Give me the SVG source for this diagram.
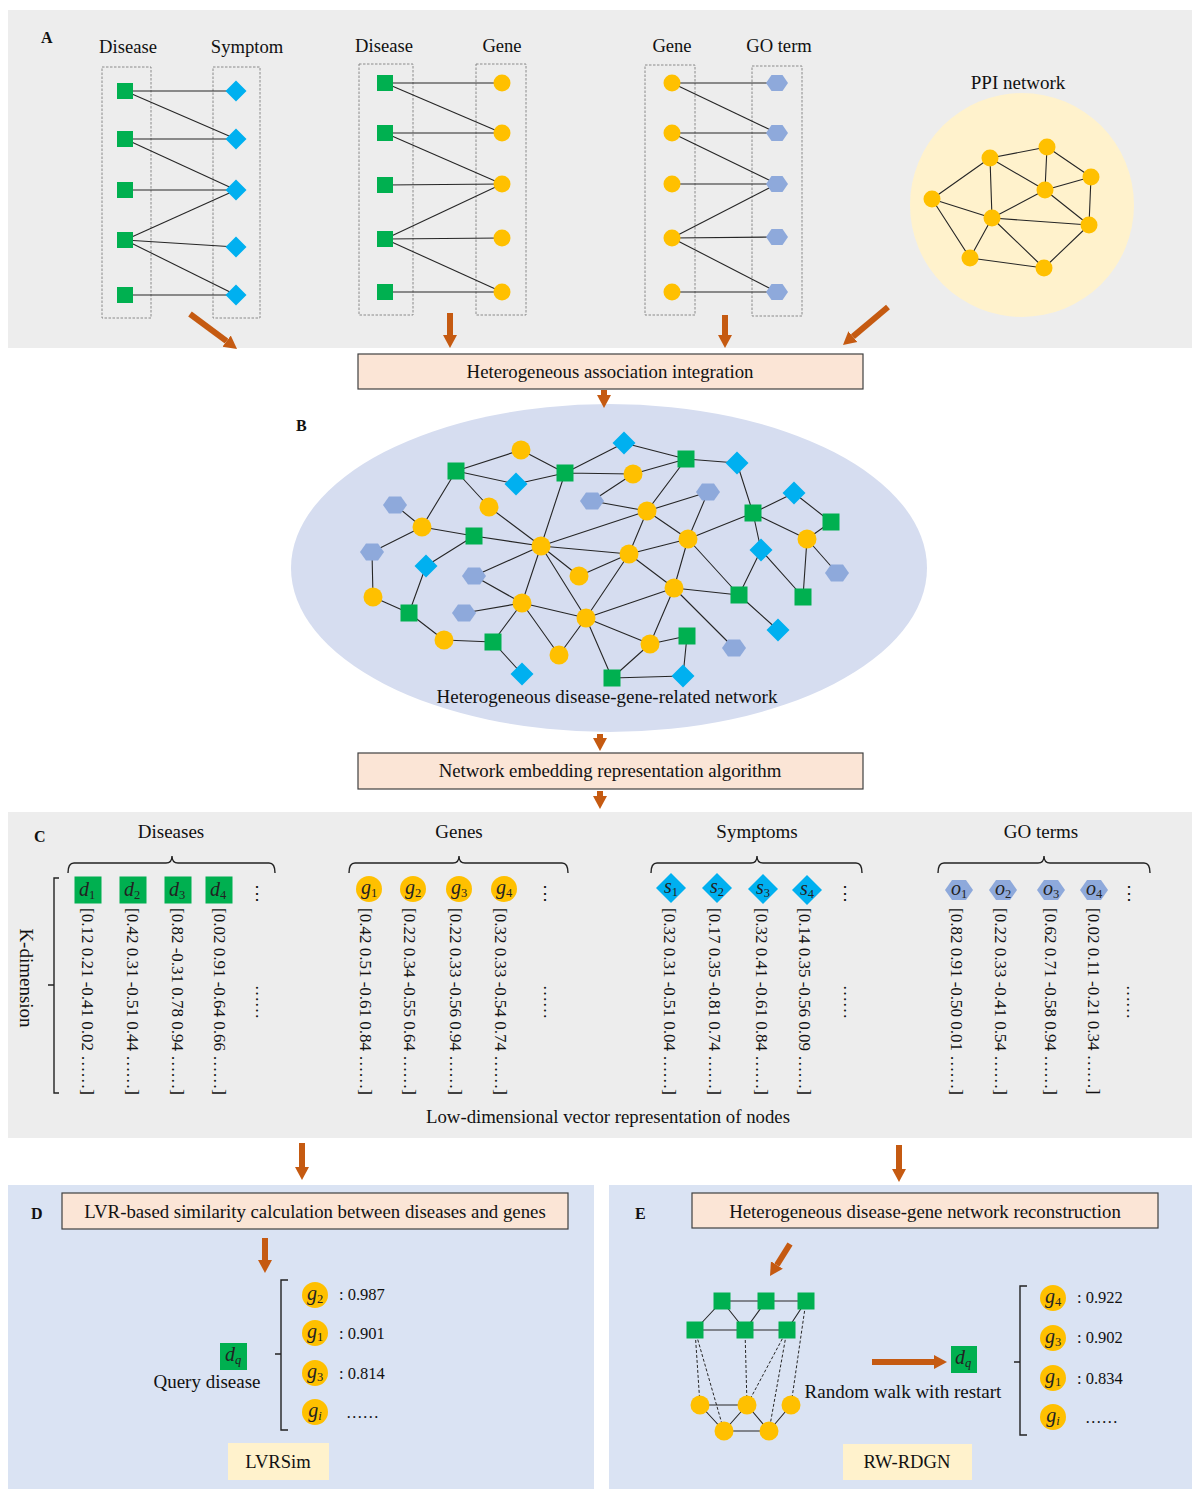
<svg xmlns="http://www.w3.org/2000/svg" width="1192" height="1489" viewBox="0 0 1192 1489">
<style>
.t{font-family:"Liberation Serif","Times New Roman",serif;fill:#111}
.h{font-size:18.6px}
.h2{font-size:19px}
.c{text-anchor:middle}
.lb{font-size:16px;font-weight:bold}
.box{fill:#FBE5D6;stroke:#404040;stroke-width:1.2}
.bt{font-size:18.8px}
.ybox{fill:#FFF2CC}
.e{stroke:#262626;stroke-width:1.1;fill:none}
.ed{stroke:#262626;stroke-width:1;fill:none;stroke-dasharray:3 2}
.dash{stroke:#808080;stroke-width:0.9;stroke-dasharray:2.5 1.5;fill:none}
.arr{stroke:#C55A11;stroke-width:6;fill:none;marker-end:url(#ah)}
.brk{stroke:#222;stroke-width:1.4;fill:none}
.ml{font-family:"Liberation Serif",serif;font-style:italic;font-size:20px;fill:#222;text-anchor:middle}
.sb{font-size:12.5px;font-style:normal}
.si{font-size:12.5px}
.vec{font-size:17px}
.val{font-size:16.5px}
</style>
<defs>
<marker id="ah" markerUnits="userSpaceOnUse" markerWidth="16" markerHeight="16" viewBox="0 0 16 16" refX="0" refY="8" orient="auto"><path d="M0,1 L13,8 L0,15 z" fill="#C55A11"/></marker>
<rect id="sqA" x="-8" y="-8" width="16" height="16" fill="#00B050"/>
<polygon id="diaA" points="0,-10.5 10.5,0 0,10.5 -10.5,0" fill="#00B0F0"/>
<circle id="cirA" r="8.5" fill="#FFC000"/>
<polygon id="hexA" points="-11,0 -5.5,-8 5.5,-8 11,0 5.5,8 -5.5,8" fill="#8EA9DB"/>
<rect id="sqB" x="-8.5" y="-8.5" width="17" height="17" fill="#00B050"/>
<circle id="cirB" r="9.5" fill="#FFC000"/>
<polygon id="diaB" points="0,-11.5 11.5,0 0,11.5 -11.5,0" fill="#00B0F0"/>
<polygon id="hexB" points="-12,0 -6,-8.5 6,-8.5 12,0 6,8.5 -6,8.5" fill="#8EA9DB"/>
<rect id="sqC" x="-13.5" y="-13.5" width="27" height="27" fill="#00B050"/>
<circle id="cirC" r="13" fill="#FFC000"/>
<polygon id="diaC" points="0,-15 15,0 0,15 -15,0" fill="#00B0F0"/>
<polygon id="hexC" points="-14,0 -7,-10 7,-10 14,0 7,10 -7,10" fill="#8EA9DB"/>
</defs>

<!-- backgrounds -->
<rect x="0" y="0" width="1192" height="1489" fill="#ffffff"/>
<rect x="8" y="10" width="1184" height="338" fill="#EDEDED"/>
<ellipse cx="609" cy="568" rx="318" ry="164" fill="#D6DDF0"/>
<rect x="8" y="812" width="1184" height="326" fill="#EDEDED"/>
<rect x="8" y="1185" width="586" height="304" fill="#DAE3F3"/>
<rect x="609" y="1185" width="583" height="304" fill="#DAE3F3"/>

<!-- Panel A -->
<g id="panelA">
<text class="t lb" x="41" y="43">A</text>
<text class="t h c" x="128" y="53">Disease</text>
<text class="t h c" x="247" y="53">Symptom</text>
<text class="t h c" x="384" y="52">Disease</text>
<text class="t h c" x="502" y="52">Gene</text>
<text class="t h c" x="672" y="52">Gene</text>
<text class="t h c" x="779" y="52">GO term</text>
<text class="t h2 c" x="1018" y="89">PPI network</text>
<rect class="dash" x="102" y="67" width="49" height="251"/>
<rect class="dash" x="213" y="67" width="47" height="251"/>
<rect class="dash" x="359" y="64" width="54" height="251"/>
<rect class="dash" x="476" y="64" width="50" height="251"/>
<rect class="dash" x="645" y="65" width="50" height="250"/>
<rect class="dash" x="752" y="66" width="50" height="250"/>
<circle cx="1022" cy="205" r="112" fill="#FFF2CC"/>
</g>

<g id="connectors">
<!-- A group 1 -->
<line class="e" x1="125" y1="91" x2="236" y2="91"/>
<line class="e" x1="125" y1="91" x2="236" y2="139"/>
<line class="e" x1="125" y1="139" x2="236" y2="139"/>
<line class="e" x1="125" y1="139" x2="236" y2="190"/>
<line class="e" x1="125" y1="190" x2="236" y2="190"/>
<line class="e" x1="125" y1="240" x2="236" y2="190"/>
<line class="e" x1="125" y1="240" x2="236" y2="247"/>
<line class="e" x1="125" y1="240" x2="236" y2="295"/>
<line class="e" x1="125" y1="295" x2="236" y2="295"/>
<!-- A group 2 -->
<line class="e" x1="385" y1="83" x2="502" y2="83"/>
<line class="e" x1="385" y1="83" x2="502" y2="133"/>
<line class="e" x1="385" y1="133" x2="502" y2="133"/>
<line class="e" x1="385" y1="133" x2="502" y2="184"/>
<line class="e" x1="385" y1="185" x2="502" y2="184"/>
<line class="e" x1="385" y1="239" x2="502" y2="184"/>
<line class="e" x1="385" y1="239" x2="502" y2="238"/>
<line class="e" x1="385" y1="239" x2="502" y2="292"/>
<line class="e" x1="385" y1="292" x2="502" y2="292"/>
<!-- A group 3 -->
<line class="e" x1="672" y1="83" x2="777" y2="83"/>
<line class="e" x1="672" y1="83" x2="777" y2="133"/>
<line class="e" x1="672" y1="133" x2="777" y2="133"/>
<line class="e" x1="672" y1="133" x2="777" y2="184"/>
<line class="e" x1="672" y1="184" x2="777" y2="184"/>
<line class="e" x1="672" y1="238" x2="777" y2="184"/>
<line class="e" x1="672" y1="238" x2="777" y2="237"/>
<line class="e" x1="672" y1="238" x2="777" y2="292"/>
<line class="e" x1="672" y1="292" x2="777" y2="292"/>
<!-- PPI -->
<path class="e" d="M990,158L1047,147 M932,199L990,158 M990,158L992,218 M990,158L1045,190 M1047,147L1045,190 M1047,147L1091,177 M1091,177L1045,190 M1091,177L1089,225 M1045,190L992,218 M1045,190L1089,225 M932,199L992,218 M932,199L970,258 M992,218L1089,225 M992,218L970,258 M992,218L1044,268 M970,258L1044,268 M1089,225L1044,268"/>
<!-- B network -->
<path class="e" d="M456,471L521,450 M456,471L516,484 M521,450L565,473 M516,484L565,473 M456,471L422,527 M456,471L489,507 M395,505L422,527 M422,527L474,536 M422,527L372,552 M372,552L373,597 M373,597L409,613 M409,613L426,566 M426,566L474,536 M474,536L541,546 M489,507L541,546 M565,473L541,546 M474,576L541,546 M474,576L522,603 M541,546L522,603 M541,546L579,576 M541,546L586,618 M464,613L522,603 M522,603L493,642 M522,603L559,655 M522,603L586,618 M586,618L559,655 M586,618L612,678 M444,640L409,613 M444,640L493,642 M493,642L522,674 M565,473L624,443 M565,473L633,474 M624,443L686,459 M633,474L686,459 M686,459L737,463 M592,501L633,474 M592,501L647,511 M686,459L647,511 M647,511L708,492 M541,546L647,511 M647,511L629,554 M647,511L688,539 M688,539L708,492 M688,539L753,513 M541,546L629,554 M629,554L688,539 M629,554L579,576 M629,554L586,618 M629,554L674,588 M688,539L674,588 M688,539L739,595 M674,588L739,595 M586,618L674,588 M674,588L650,644 M674,588L734,648 M586,618L650,644 M650,644L687,636 M687,636L683,676 M612,678L650,644 M612,678L683,676 M737,463L753,513 M753,513L794,493 M794,493L831,522 M753,513L807,539 M807,539L831,522 M807,539L837,573 M807,539L803,597 M753,513L761,550 M761,550L739,595 M761,550L803,597 M739,595L778,630"/>
<!-- E small network -->
<path class="e" d="M722,1301L766,1301 M766,1301L806,1301 M722,1301L695,1330 M722,1301L745,1330 M766,1301L745,1330 M695,1330L745,1330 M745,1330L787,1330 M806,1301L787,1330 M700,1405L747,1405 M700,1405L724,1431 M747,1405L724,1431 M747,1405L769,1431 M791,1405L769,1431 M724,1431L769,1431"/>
<path class="ed" d="M695,1330L700,1405 M695,1330L724,1431 M745,1330L747,1405 M787,1330L747,1405 M787,1330L769,1431 M806,1301L791,1405"/>
<!-- flow arrows -->
<line class="arr" x1="190" y1="314" x2="226.6" y2="341.2"/>
<line class="arr" x1="450" y1="313" x2="450" y2="335"/>
<line class="arr" x1="725" y1="315" x2="725" y2="335"/>
<line class="arr" x1="888" y1="307" x2="852.9" y2="336.6"/>
<line class="arr" x1="604" y1="390" x2="604" y2="395"/>
<line class="arr" x1="600" y1="734" x2="600" y2="738"/>
<line class="arr" x1="600" y1="791" x2="600" y2="796"/>
<line class="arr" x1="302" y1="1143" x2="302" y2="1167"/>
<line class="arr" x1="899" y1="1145" x2="899" y2="1169"/>
<line class="arr" x1="265" y1="1238" x2="265" y2="1260"/>
<line class="arr" x1="790" y1="1244" x2="776.9" y2="1265"/>
<line class="arr" x1="872" y1="1362" x2="934" y2="1362"/>
</g>

<!-- Panel A nodes -->
<g id="A-dis1-1"><use href="#sqA" x="125" y="91"/></g>
<g id="A-dis1-2"><use href="#sqA" x="125" y="139"/></g>
<g id="A-dis1-3"><use href="#sqA" x="125" y="190"/></g>
<g id="A-dis1-4"><use href="#sqA" x="125" y="240"/></g>
<g id="A-dis1-5"><use href="#sqA" x="125" y="295"/></g>
<g id="A-sym-1"><use href="#diaA" x="236" y="91"/></g>
<g id="A-sym-2"><use href="#diaA" x="236" y="139"/></g>
<g id="A-sym-3"><use href="#diaA" x="236" y="190"/></g>
<g id="A-sym-4"><use href="#diaA" x="236" y="247"/></g>
<g id="A-sym-5"><use href="#diaA" x="236" y="295"/></g>
<g id="A-dis2-1"><use href="#sqA" x="385" y="83"/></g>
<g id="A-dis2-2"><use href="#sqA" x="385" y="133"/></g>
<g id="A-dis2-3"><use href="#sqA" x="385" y="185"/></g>
<g id="A-dis2-4"><use href="#sqA" x="385" y="239"/></g>
<g id="A-dis2-5"><use href="#sqA" x="385" y="292"/></g>
<g id="A-gen2-1"><use href="#cirA" x="502" y="83"/></g>
<g id="A-gen2-2"><use href="#cirA" x="502" y="133"/></g>
<g id="A-gen2-3"><use href="#cirA" x="502" y="184"/></g>
<g id="A-gen2-4"><use href="#cirA" x="502" y="238"/></g>
<g id="A-gen2-5"><use href="#cirA" x="502" y="292"/></g>
<g id="A-gen3-1"><use href="#cirA" x="672" y="83"/></g>
<g id="A-gen3-2"><use href="#cirA" x="672" y="133"/></g>
<g id="A-gen3-3"><use href="#cirA" x="672" y="184"/></g>
<g id="A-gen3-4"><use href="#cirA" x="672" y="238"/></g>
<g id="A-gen3-5"><use href="#cirA" x="672" y="292"/></g>
<g id="A-go-1"><use href="#hexA" x="777" y="83"/></g>
<g id="A-go-2"><use href="#hexA" x="777" y="133"/></g>
<g id="A-go-3"><use href="#hexA" x="777" y="184"/></g>
<g id="A-go-4"><use href="#hexA" x="777" y="237"/></g>
<g id="A-go-5"><use href="#hexA" x="777" y="292"/></g>
<g id="ppi-1"><use href="#cirA" x="932" y="199"/></g>
<g id="ppi-2"><use href="#cirA" x="990" y="158"/></g>
<g id="ppi-3"><use href="#cirA" x="1047" y="147"/></g>
<g id="ppi-4"><use href="#cirA" x="1091" y="177"/></g>
<g id="ppi-5"><use href="#cirA" x="1045" y="190"/></g>
<g id="ppi-6"><use href="#cirA" x="992" y="218"/></g>
<g id="ppi-7"><use href="#cirA" x="1089" y="225"/></g>
<g id="ppi-8"><use href="#cirA" x="970" y="258"/></g>
<g id="ppi-9"><use href="#cirA" x="1044" y="268"/></g>

<!-- process boxes -->
<g id="box-integration"><rect class="box" x="358" y="354" width="505" height="35"/><text class="t c bt" x="610" y="378">Heterogeneous association integration</text></g>
<g id="box-embedding"><rect class="box" x="358" y="753" width="505" height="36"/><text class="t c bt" x="610" y="777">Network embedding representation algorithm</text></g>

<!-- Panel B -->
<text class="t lb" x="296" y="431">B</text>
<text class="t h2 c" x="607" y="703">Heterogeneous disease-gene-related network</text>
<g id="B-S1"><use href="#sqB" x="456" y="471"/></g>
<g id="B-C1"><use href="#cirB" x="521" y="450"/></g>
<g id="B-D1"><use href="#diaB" x="516" y="484"/></g>
<g id="B-S2"><use href="#sqB" x="565" y="473"/></g>
<g id="B-H1"><use href="#hexB" x="395" y="505"/></g>
<g id="B-C2"><use href="#cirB" x="489" y="507"/></g>
<g id="B-C3"><use href="#cirB" x="422" y="527"/></g>
<g id="B-S3"><use href="#sqB" x="474" y="536"/></g>
<g id="B-C4"><use href="#cirB" x="541" y="546"/></g>
<g id="B-H2"><use href="#hexB" x="372" y="552"/></g>
<g id="B-D2"><use href="#diaB" x="426" y="566"/></g>
<g id="B-H3"><use href="#hexB" x="474" y="576"/></g>
<g id="B-C5"><use href="#cirB" x="579" y="576"/></g>
<g id="B-C6"><use href="#cirB" x="373" y="597"/></g>
<g id="B-S4"><use href="#sqB" x="409" y="613"/></g>
<g id="B-C7"><use href="#cirB" x="522" y="603"/></g>
<g id="B-H4"><use href="#hexB" x="464" y="613"/></g>
<g id="B-C8"><use href="#cirB" x="586" y="618"/></g>
<g id="B-C9"><use href="#cirB" x="444" y="640"/></g>
<g id="B-S5"><use href="#sqB" x="493" y="642"/></g>
<g id="B-C10"><use href="#cirB" x="559" y="655"/></g>
<g id="B-D3"><use href="#diaB" x="522" y="674"/></g>
<g id="B-S6"><use href="#sqB" x="612" y="678"/></g>
<g id="B-D4"><use href="#diaB" x="624" y="443"/></g>
<g id="B-S7"><use href="#sqB" x="686" y="459"/></g>
<g id="B-D5"><use href="#diaB" x="737" y="463"/></g>
<g id="B-C11"><use href="#cirB" x="633" y="474"/></g>
<g id="B-H5"><use href="#hexB" x="592" y="501"/></g>
<g id="B-H6"><use href="#hexB" x="708" y="492"/></g>
<g id="B-C12"><use href="#cirB" x="647" y="511"/></g>
<g id="B-C13"><use href="#cirB" x="688" y="539"/></g>
<g id="B-C14"><use href="#cirB" x="629" y="554"/></g>
<g id="B-C15"><use href="#cirB" x="674" y="588"/></g>
<g id="B-S8"><use href="#sqB" x="739" y="595"/></g>
<g id="B-C16"><use href="#cirB" x="650" y="644"/></g>
<g id="B-S9"><use href="#sqB" x="687" y="636"/></g>
<g id="B-H7"><use href="#hexB" x="734" y="648"/></g>
<g id="B-D6"><use href="#diaB" x="683" y="676"/></g>
<g id="B-D7"><use href="#diaB" x="794" y="493"/></g>
<g id="B-S10"><use href="#sqB" x="753" y="513"/></g>
<g id="B-S11"><use href="#sqB" x="831" y="522"/></g>
<g id="B-C17"><use href="#cirB" x="807" y="539"/></g>
<g id="B-D8"><use href="#diaB" x="761" y="550"/></g>
<g id="B-H8"><use href="#hexB" x="837" y="573"/></g>
<g id="B-S12"><use href="#sqB" x="803" y="597"/></g>
<g id="B-D9"><use href="#diaB" x="778" y="630"/></g>

<!-- Panel C -->
<g id="panelC">
<text class="t lb" x="34" y="842">C</text>
<text class="t h2 c" x="171" y="838">Diseases</text>
<text class="t h2 c" x="459" y="838">Genes</text>
<text class="t h2 c" x="757" y="838">Symptoms</text>
<text class="t h2 c" x="1041" y="838">GO terms</text>
<path class="brk" d="M68,873 Q68,863 74,863 L166,863 Q172,863 172,856 Q172,863 178,863 L269,863 Q275,863 275,873"/>
<path class="brk" d="M349,873 Q349,863 355,863 L453,863 Q459,863 459,856 Q459,863 465,863 L562,863 Q568,863 568,873"/>
<path class="brk" d="M651,873 Q651,863 657,863 L751,863 Q757,863 757,856 Q757,863 763,863 L856,863 Q862,863 862,873"/>
<path class="brk" d="M938,873 Q938,863 944,863 L1038,863 Q1044,863 1044,856 Q1044,863 1050,863 L1144,863 Q1150,863 1150,873"/>
<path class="brk" d="M59,878 L54,878 L54,1093 L59,1093 M54,985 L48,985"/>
<text class="t h2 c" transform="translate(20,978) rotate(90)">K-dimension</text>
<text class="t c" font-size="18" x="257" y="899">⋮</text>
<text class="t c" font-size="18" x="545" y="899">⋮</text>
<text class="t c" font-size="18" x="845" y="899">⋮</text>
<text class="t c" font-size="18" x="1129" y="899">⋮</text>
<text class="t vec" transform="translate(255.5,985) rotate(90)">……</text>
<text class="t vec" transform="translate(543.5,985) rotate(90)">……</text>
<text class="t vec" transform="translate(843.5,985) rotate(90)">……</text>
<text class="t vec" transform="translate(1126.5,985) rotate(90)">……</text>
<text class="t vec" transform="translate(82,908) rotate(90)">[0.12 0.21 -0.41 0.02 ……]</text>
<text class="t vec" transform="translate(127,908) rotate(90)">[0.42 0.31 -0.51 0.44 ……]</text>
<text class="t vec" transform="translate(172,908) rotate(90)">[0.82 -0.31 0.78 0.94 ……]</text>
<text class="t vec" transform="translate(214,908) rotate(90)">[0.02 0.91 -0.64 0.66 ……]</text>
<text class="t vec" transform="translate(360,908) rotate(90)">[0.42 0.51 -0.61 0.84 ……]</text>
<text class="t vec" transform="translate(404,908) rotate(90)">[0.22 0.34 -0.55 0.64 ……]</text>
<text class="t vec" transform="translate(450,908) rotate(90)">[0.22 0.33 -0.56 0.94 ……]</text>
<text class="t vec" transform="translate(495,908) rotate(90)">[0.32 0.33 -0.54 0.74 ……]</text>
<text class="t vec" transform="translate(664,908) rotate(90)">[0.32 0.31 -0.51 0.04 ……]</text>
<text class="t vec" transform="translate(709,908) rotate(90)">[0.17 0.35 -0.81 0.74 ……]</text>
<text class="t vec" transform="translate(756,908) rotate(90)">[0.32 0.41 -0.61 0.84 ……]</text>
<text class="t vec" transform="translate(799,908) rotate(90)">[0.14 0.35 -0.56 0.09 ……]</text>
<text class="t vec" transform="translate(951,908) rotate(90)">[0.82 0.91 -0.50 0.01 ……]</text>
<text class="t vec" transform="translate(995,908) rotate(90)">[0.22 0.33 -0.41 0.54 ……]</text>
<text class="t vec" transform="translate(1045,908) rotate(90)">[0.62 0.71 -0.58 0.94 ……]</text>
<text class="t vec" transform="translate(1088,908) rotate(90)">[0.02 0.11 -0.21 0.34 ……]</text>
<text class="t c bt" x="608" y="1123">Low-dimensional vector representation of nodes</text>
</g>
<g id="C-d1"><use href="#sqC" x="88" y="890"/><text class="ml" x="87" y="896">d<tspan class="sb" dy="3">1</tspan></text></g>
<g id="C-d2"><use href="#sqC" x="133" y="890"/><text class="ml" x="132" y="896">d<tspan class="sb" dy="3">2</tspan></text></g>
<g id="C-d3"><use href="#sqC" x="178" y="890"/><text class="ml" x="177" y="896">d<tspan class="sb" dy="3">3</tspan></text></g>
<g id="C-d4"><use href="#sqC" x="219" y="890"/><text class="ml" x="218" y="896">d<tspan class="sb" dy="3">4</tspan></text></g>
<g id="C-g1"><use href="#cirC" x="369" y="889"/><text class="ml" x="369" y="894">g<tspan class="sb" dy="3">1</tspan></text></g>
<g id="C-g2"><use href="#cirC" x="413" y="889"/><text class="ml" x="413" y="894">g<tspan class="sb" dy="3">2</tspan></text></g>
<g id="C-g3"><use href="#cirC" x="459" y="889"/><text class="ml" x="459" y="894">g<tspan class="sb" dy="3">3</tspan></text></g>
<g id="C-g4"><use href="#cirC" x="504" y="889"/><text class="ml" x="504" y="894">g<tspan class="sb" dy="3">4</tspan></text></g>
<g id="C-s1"><use href="#diaC" x="671" y="888"/><text class="ml" x="671" y="893">s<tspan class="sb" dy="3">1</tspan></text></g>
<g id="C-s2"><use href="#diaC" x="717" y="888"/><text class="ml" x="717" y="893">s<tspan class="sb" dy="3">2</tspan></text></g>
<g id="C-s3"><use href="#diaC" x="763" y="889"/><text class="ml" x="763" y="894">s<tspan class="sb" dy="3">3</tspan></text></g>
<g id="C-s4"><use href="#diaC" x="807" y="890"/><text class="ml" x="807" y="895">s<tspan class="sb" dy="3">4</tspan></text></g>
<g id="C-o1"><use href="#hexC" x="959" y="890"/><text class="ml" x="959" y="895">o<tspan class="sb" dy="3">1</tspan></text></g>
<g id="C-o2"><use href="#hexC" x="1003" y="890"/><text class="ml" x="1003" y="895">o<tspan class="sb" dy="3">2</tspan></text></g>
<g id="C-o3"><use href="#hexC" x="1051" y="890"/><text class="ml" x="1051" y="895">o<tspan class="sb" dy="3">3</tspan></text></g>
<g id="C-o4"><use href="#hexC" x="1094" y="890"/><text class="ml" x="1094" y="895">o<tspan class="sb" dy="3">4</tspan></text></g>

<!-- Panel D -->
<g id="panelD">
<text class="t lb" x="31" y="1219">D</text>
<path class="brk" d="M288,1280 L281,1280 L281,1430 L288,1430 M281,1354 L275,1354"/>
<text class="t h2 c" x="207" y="1388">Query disease</text>
<text class="t val" x="339" y="1300">: 0.987</text>
<text class="t val" x="339" y="1339">: 0.901</text>
<text class="t val" x="339" y="1379">: 0.814</text>
<text class="t val" x="346" y="1418">……</text>
</g>
<g id="box-lvr"><rect class="box" x="62" y="1193" width="506" height="36"/><text class="t c bt" x="315" y="1218">LVR-based similarity calculation between diseases and genes</text></g>
<g id="D-dq"><rect x="220" y="1343" width="27" height="27" fill="#00B050"/><text class="ml" x="233" y="1361">d<tspan class="si" dy="3">q</tspan></text></g>
<g id="D-g2"><use href="#cirC" x="315" y="1295"/><text class="ml" x="315" y="1300">g<tspan class="sb" dy="3">2</tspan></text></g>
<g id="D-g1"><use href="#cirC" x="315" y="1333"/><text class="ml" x="315" y="1338">g<tspan class="sb" dy="3">1</tspan></text></g>
<g id="D-g3"><use href="#cirC" x="315" y="1373"/><text class="ml" x="315" y="1378">g<tspan class="sb" dy="3">3</tspan></text></g>
<g id="D-gi"><use href="#cirC" x="315" y="1412"/><text class="ml" x="315" y="1417">g<tspan class="si" dy="3">i</tspan></text></g>
<g id="box-lvrsim"><rect class="ybox" x="228" y="1443" width="101" height="37"/><text class="t h c" x="278" y="1468">LVRSim</text></g>

<!-- Panel E -->
<g id="panelE">
<text class="t lb" x="635" y="1219">E</text>
<path class="brk" d="M1027,1286 L1020,1286 L1020,1435 L1027,1435 M1020,1362 L1014,1362"/>
<text class="t h2 c" x="903" y="1398">Random walk with restart</text>
<text class="t val" x="1077" y="1303">: 0.922</text>
<text class="t val" x="1077" y="1343">: 0.902</text>
<text class="t val" x="1077" y="1384">: 0.834</text>
<text class="t val" x="1085" y="1423">……</text>
</g>
<g id="box-recon"><rect class="box" x="692" y="1193" width="466" height="35"/><text class="t c bt" x="925" y="1218">Heterogeneous disease-gene network reconstruction</text></g>
<g id="E-T1"><use href="#sqB" x="722" y="1301"/></g>
<g id="E-T2"><use href="#sqB" x="766" y="1301"/></g>
<g id="E-T3"><use href="#sqB" x="806" y="1301"/></g>
<g id="E-M1"><use href="#sqB" x="695" y="1330"/></g>
<g id="E-M2"><use href="#sqB" x="745" y="1330"/></g>
<g id="E-M3"><use href="#sqB" x="787" y="1330"/></g>
<g id="E-Y1"><use href="#cirB" x="700" y="1405"/></g>
<g id="E-Y2"><use href="#cirB" x="747" y="1405"/></g>
<g id="E-Y3"><use href="#cirB" x="791" y="1405"/></g>
<g id="E-B1"><use href="#cirB" x="724" y="1431"/></g>
<g id="E-B2"><use href="#cirB" x="769" y="1431"/></g>
<g id="E-dq"><rect x="951" y="1346" width="26" height="27" fill="#00B050"/><text class="ml" x="963" y="1364">d<tspan class="si" dy="3">q</tspan></text></g>
<g id="E-g4"><use href="#cirC" x="1053" y="1298"/><text class="ml" x="1053" y="1303">g<tspan class="sb" dy="3">4</tspan></text></g>
<g id="E-g3"><use href="#cirC" x="1053" y="1338"/><text class="ml" x="1053" y="1343">g<tspan class="sb" dy="3">3</tspan></text></g>
<g id="E-g1"><use href="#cirC" x="1053" y="1378"/><text class="ml" x="1053" y="1383">g<tspan class="sb" dy="3">1</tspan></text></g>
<g id="E-gi"><use href="#cirC" x="1053" y="1417"/><text class="ml" x="1053" y="1422">g<tspan class="si" dy="3">i</tspan></text></g>
<g id="box-rwrdgn"><rect class="ybox" x="843" y="1444" width="129" height="36"/><text class="t h c" x="907" y="1468">RW-RDGN</text></g>
</svg>
